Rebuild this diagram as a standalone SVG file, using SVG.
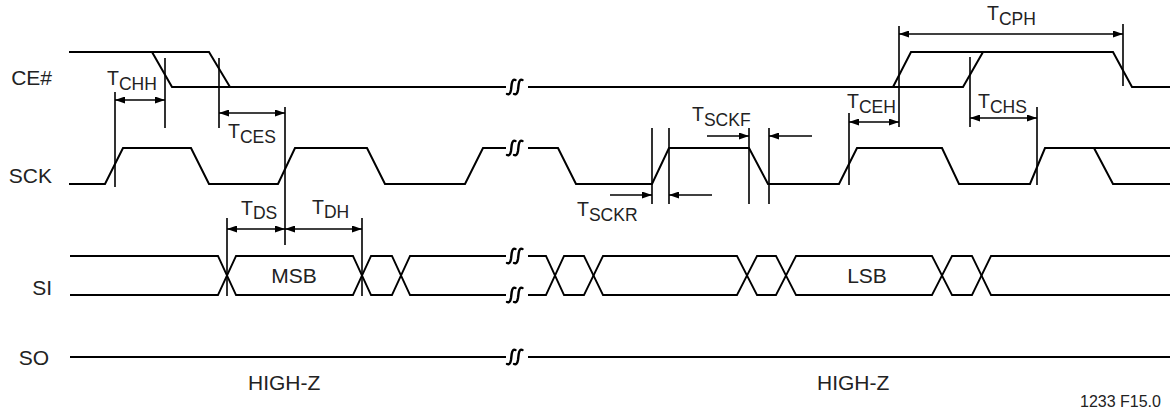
<svg xmlns="http://www.w3.org/2000/svg" xmlns:xlink="http://www.w3.org/1999/xlink" width="1170" height="411" viewBox="0 0 1170 411">
<style>
.wave{fill:none;stroke:#000;stroke-width:2;stroke-linejoin:miter}
.si{fill:none;stroke:#000;stroke-width:1.8}
.dim{fill:none;stroke:#000;stroke-width:1.6}
.arr{fill:none;stroke:#000;stroke-width:1.6;marker-end:url(#ah)}
.darr{fill:none;stroke:#000;stroke-width:1.6;marker-start:url(#ah);marker-end:url(#ah)}
.brk{fill:none;stroke:#000;stroke-width:2.4;stroke-linecap:round}
.lbl{font-family:"Liberation Sans",Arial,Helvetica,sans-serif;font-size:21px;fill:#222}
.t{font-family:"Liberation Sans",Arial,Helvetica,sans-serif;font-size:19.5px;fill:#222}
.sub{font-size:17.5px}
.ref{font-family:"Liberation Sans",Arial,Helvetica,sans-serif;font-size:16px;fill:#222}
</style>
<defs>
<marker id="ah" viewBox="0 0 10 7" refX="10" refY="3.5" markerWidth="10" markerHeight="7" markerUnits="userSpaceOnUse" orient="auto-start-reverse">
<path d="M0,0 L10,3.5 L0,7 z" fill="#000"/>
</marker>
<g id="brk">
<path class="brk" d="M-10,7 Q-7,8.5 -6,3 L-5.3,-3 Q-4.5,-8.5 -1.5,-7 M-3,7 Q0,8.5 1,3 L1.7,-3 Q2.5,-8.5 5.5,-7"/>
</g>
</defs>

<g id="labels">
<text class="lbl" x="52" y="85" text-anchor="end">CE#</text>
<text class="lbl" x="52" y="183" text-anchor="end">SCK</text>
<text class="lbl" x="52" y="295" text-anchor="end">SI</text>
<text class="lbl" x="49" y="365" text-anchor="end">SO</text>
<text class="lbl" x="248" y="390">HIGH-Z</text>
<text class="lbl" x="817" y="390">HIGH-Z</text>
<text class="ref" x="1080" y="407">1233 F15.0</text>
</g>

<g id="ce">
<path class="wave" d="M69,52 L209,52 L230,87"/>
<path class="wave" d="M152,52 L172,87 L506,87"/>
<path class="wave" d="M528,87 L963,87 L983,52"/>
<path class="wave" d="M893,87 L911,52 L1113,52 L1132,87 L1170,87"/>
<use xlink:href="#brk" x="517" y="87"/>
</g>

<g id="sck">
<path class="wave" d="M69,184 L105,184 L123,148 L191,148 L209,184 L278,184 L295,148 L367,148 L385,184 L465,184 L483,148 L506,148"/>
<path class="wave" d="M528,148 L558,148 L576,184 L652,184 L669,148 L749,148 L768,184 L839,184 L857,148 L942,148 L959,184 L1030,184 L1045,148 L1170,148"/>
<path class="wave" d="M1094,148 L1113,184 L1170,184"/>
<use xlink:href="#brk" x="517" y="148"/>
</g>

<g id="si">
<path class="si" d="M70,256 L218,256 L236,295 L353,295 L371,256 L392,256 L410,295 L506,295"/>
<path class="si" d="M70,295 L218,295 L236,256 L353,256 L371,295 L392,295 L410,256 L506,256"/>
<path class="si" d="M528,256 L546,256 L564,295 L584,295 L603,256 L737,256 L757,295 L776,295 L796,256 L932,256 L952,295 L972,295 L991,256 L1170,256"/>
<path class="si" d="M528,295 L546,295 L564,256 L584,256 L603,295 L737,295 L757,256 L776,256 L796,295 L932,295 L952,256 L972,256 L991,295 L1170,295"/>
<use xlink:href="#brk" x="517" y="256"/>
<use xlink:href="#brk" x="517" y="295"/>
<text class="lbl" x="294" y="283" text-anchor="middle">MSB</text>
<text class="lbl" x="867" y="283" text-anchor="middle">LSB</text>
</g>

<g id="so">
<path class="si" d="M70,357 L506,357 M528,357 L1170,357"/>
<use xlink:href="#brk" x="517" y="357"/>
</g>

<g id="connectors">
<path class="dim" d="M115,92 V187 M165,58 V128 M219,58 V128 M285,107 V245 M227,218 V296 M362,218 V296 M652,128 V204 M669,128 V204 M749,128 V204 M769,128 V204 M849,113 V185 M899,26 V127 M970,57 V127 M1037,107 V185 M1123,24 V86"/>
<path class="darr" d="M115,100 H165"/>
<path class="darr" d="M219,113 H285"/>
<path class="darr" d="M227,229 H285"/>
<path class="darr" d="M285,229 H362"/>
<path class="darr" d="M899,34 H1123"/>
<path class="darr" d="M849,122 H899"/>
<path class="darr" d="M970,118 H1037"/>
<path class="arr" d="M610,195 H652"/>
<path class="arr" d="M712,195 H669"/>
<path class="arr" d="M707,136 H749"/>
<path class="arr" d="M812,136 H769"/>
</g>

<g id="timing-labels">
<text class="t" x="107" y="85">T<tspan class="sub" dy="5">CHH</tspan></text>
<text class="t" x="228" y="138">T<tspan class="sub" dy="5">CES</tspan></text>
<text class="t" x="987" y="20">T<tspan class="sub" dy="5">CPH</tspan></text>
<text class="t" x="847" y="108">T<tspan class="sub" dy="5">CEH</tspan></text>
<text class="t" x="978" y="108">T<tspan class="sub" dy="5">CHS</tspan></text>
<text class="t" x="692" y="121">T<tspan class="sub" dy="5">SCKF</tspan></text>
<text class="t" x="577" y="216">T<tspan class="sub" dy="5">SCKR</tspan></text>
<text class="t" x="241" y="215">T<tspan class="sub" dy="4">DS</tspan></text>
<text class="t" x="312" y="214">T<tspan class="sub" dy="4">DH</tspan></text>
</g>
</svg>
